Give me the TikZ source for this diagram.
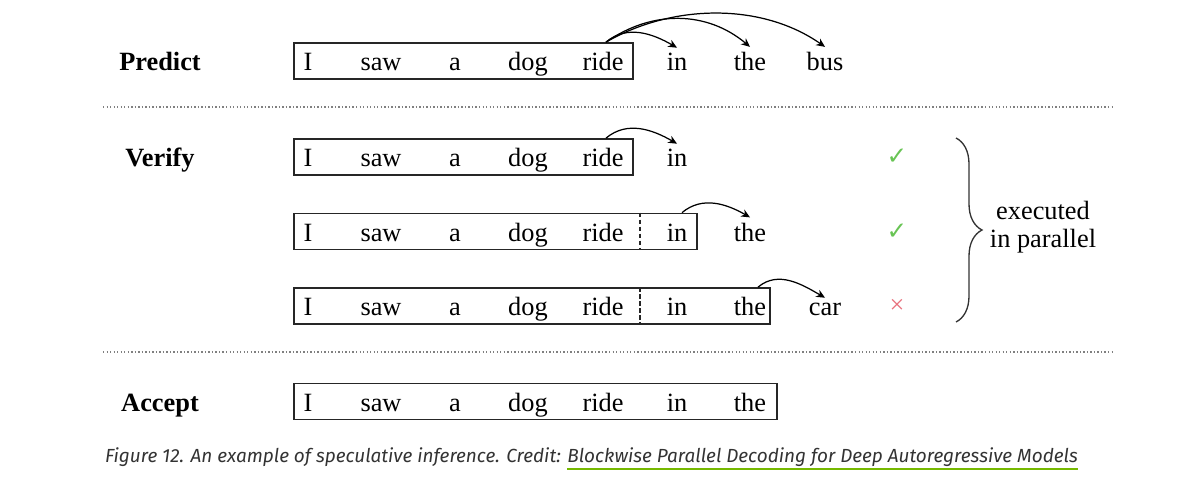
\documentclass[tikz,border=0pt]{standalone}
\usepackage{fontspec}
\setmainfont{Liberation Serif}
\newfontfamily\capfont{Fira Sans}
\newfontfamily\symfont{DejaVu Sans}
\usepackage{tikz}
\usetikzlibrary{arrows.meta, positioning, calc, decorations.pathreplacing}
\definecolor{okgreen}{RGB}{104,196,84}
\definecolor{badred}{RGB}{232,112,124}
\definecolor{nvgreen}{HTML}{76B900}

\begin{document}
\begin{tikzpicture}[x=0.02cm, y=0.02cm,
  word/.style={anchor=base, inner sep=0pt, font=\fontsize{15}{18}\selectfont},
  phase/.style={word, font=\fontsize{15}{18}\selectfont\bfseries},
  seqbox/.style={draw=black!85, line width=1pt, minimum height=0.72cm, inner sep=0pt},
  divider/.style={draw=black!85, line width=0.9pt, dash pattern=on 2.5pt off 1.5pt},
  sep/.style={draw=black!50, line width=1pt, dash pattern=on 0.8pt off 1.2pt},
  arrow/.style={-{Stealth[length=5pt, width=4.5pt]}, line width=0.7pt},
  verdict/.style={inner sep=0pt, font=\symfont\fontsize{14}{16}\selectfont},
  brace/.style={decorate, decoration={brace, amplitude=0.52cm}, line width=0.75pt, draw=black!80},
  note/.style={align=center, font=\fontsize{15}{16}\selectfont},
  caption/.style={font=\capfont\itshape\fontsize{10.8}{12}\selectfont, text=black!80}
]
\useasboundingbox (0,0) rectangle (1185,-488);

% Phase labels
\node[phase] (predict) at (160,-70.5) {Predict};
\node[phase] (verify)  at (160,-166.5) {Verify};
\node[phase] (accept)  at (160,-411) {Accept};

% Separators
\draw[sep] (103,-107) -- (1113,-107);
\draw[sep] (103,-352) -- (1113,-352);

% Predict row
\foreach \w/\x [count=\i] in {I/308, saw/381, a/455, dog/528, ride/603, in/677, the/750, bus/825}
  \node[word] (p\i) at (\x,-70.5) {\w};
\node[seqbox, minimum width=6.78cm] (pbox) at (463.5,-61) {};

% Verify rows
\foreach \w/\x [count=\i] in {I/308, saw/381, a/455, dog/528, ride/603, in/677}
  \node[word] (v1\i) at (\x,-166.5) {\w};
\node[seqbox, minimum width=6.78cm] (v1box) at (463.5,-157) {};

\foreach \w/\x [count=\i] in {I/308, saw/381, a/455, dog/528, ride/603, in/677, the/750}
  \node[word] (v2\i) at (\x,-241) {\w};
\node[seqbox, minimum width=8.06cm] (v2box) at (495.5,-231.5) {};

\foreach \w/\x [count=\i] in {I/308, saw/381, a/455, dog/528, ride/603, in/677, the/750, car/825}
  \node[word] (v3\i) at (\x,-315.5) {\w};
\node[seqbox, minimum width=9.52cm] (v3box) at (532,-306) {};

% Accept row
\foreach \w/\x [count=\i] in {I/308, saw/381, a/455, dog/528, ride/603, in/677, the/750}
  \node[word] (a\i) at (\x,-411) {\w};
\node[seqbox, minimum width=9.66cm] (abox) at (535.5,-401.5) {};

% Cut between context and guesses
\coordinate (cut) at (640,0);
\draw[divider] (cut |- v2box.north) -- (cut |- v2box.south);
\draw[divider] (cut |- v3box.north) -- (cut |- v3box.south);

% Predict arrows
\draw[arrow] ($(pbox.north -| p5)+(3,0)$) to[out=40, in=150] ($(p6.north)+(0,5)$);
\draw[arrow] ($(pbox.north -| p5)+(3,0)$) to[out=35, in=140] ($(p7.north)+(0,5)$);
\draw[arrow] ($(pbox.north -| p5)+(3,0)$) to[out=30, in=145, looseness=0.9] ($(p8.north)+(0,5)$);

% Verify arrows
\draw[arrow] ($(v1box.north -| v15)+(3,0)$) to[out=40, in=150] ($(v16.north)+(0,5)$);
\draw[arrow] ($(v2box.north -| v26)+(5,0)$) to[out=40, in=150] ($(v27.north)+(0,5)$);
\draw[arrow] ($(v3box.north -| v37)+(8,0)$) to[out=40, in=150] ($(v38.north)+(0,5)$);

% Verdicts
\node[verdict, text=okgreen] (ok1) at (897,-157) {✓};
\node[verdict, text=okgreen] (ok2) at (897,-232) {✓};
\node[word, anchor=center, text=badred] (bad3) at (897,-306) {×};

% Brace and note
\draw[brace] (956,-138) -- (956,-322);
\node[note] (parallel) at (1043,-227) {executed\\in parallel};

% Caption
\node[caption] (cap) at (591.5,-457) {Figure 12. An example of speculative inference. Credit: Blockwise Parallel Decoding for Deep Autoregressive Models};
\draw[nvgreen, line width=1.6pt] (567,-469) -- (1078,-469);

\end{tikzpicture}
\end{document}
